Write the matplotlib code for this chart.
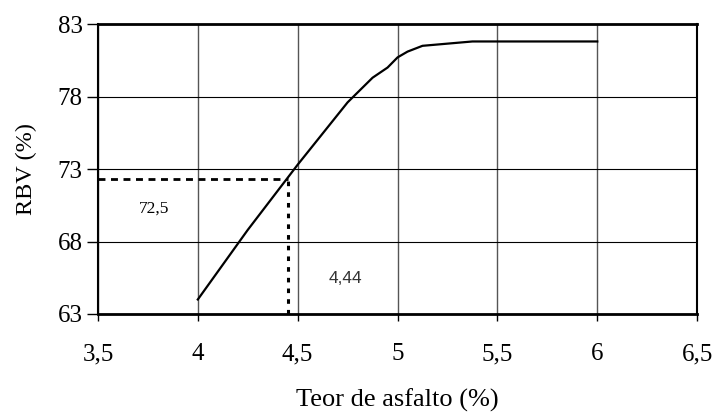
import matplotlib.pyplot as plt

# curve
teor = [4.0, 4.25, 4.5, 4.75, 4.875, 4.95, 5.0, 5.05, 5.125, 5.375, 6.0]
rbv = [64.0, 68.8, 73.3, 77.6, 79.3, 80.0, 80.7, 81.1, 81.5, 81.8, 81.8]

# optimum point marked with dotted lines
teor_opt = 4.45
rbv_opt = 72.3
label_rbv = '72,5'
label_teor = '4,44'

xticks = [3.5, 4.0, 4.5, 5.0, 5.5, 6.0, 6.5]
yticks = [63, 68, 73, 78, 83]

plt.rcParams['font.family'] = ['Liberation Serif', 'DejaVu Serif']

fig = plt.figure(figsize=(7.15, 4.15), dpi=100)
ax = fig.add_axes([0.137, 0.2434, 0.838, 0.6986])

ax.plot(teor, rbv, color='black', linewidth=1.6, zorder=3)

# dotted guide lines
ax.plot([3.5, teor_opt], [rbv_opt, rbv_opt], color='black', linewidth=2,
        linestyle=(0, (2.5, 2)), zorder=3)
ax.plot([teor_opt, teor_opt], [63, rbv_opt], color='black', linewidth=2.2,
        linestyle=(0, (1.5, 2)), zorder=3)

ax.text(3.78, 70.3, label_rbv, fontsize=12.5, ha='center', va='center')
ax.text(4.74, 65.45, label_teor, fontsize=12.5, ha='center', va='center',
        color='#333333', family=['Liberation Sans', 'DejaVu Sans'])

ax.set_xlim(3.5, 6.5)
ax.set_ylim(63, 83)
ax.set_xticks(xticks)
ax.set_xticklabels([f'{v:g}'.replace('.', ',') for v in xticks])
ax.set_yticks(yticks)
ax.tick_params(labelsize=18, direction='out', width=1)
ax.tick_params(axis='x', length=5, pad=16)
ax.tick_params(axis='y', length=8, pad=3)

ax.xaxis.grid(True, color='#555555', linewidth=1)
ax.yaxis.grid(True, color='black', linewidth=0.8)
ax.set_axisbelow(True)

for side in ['top', 'bottom']:
    ax.spines[side].set_linewidth(2)
for side in ['left', 'right']:
    ax.spines[side].set_linewidth(1.5)

ax.set_xlabel('Teor de asfalto (%)', fontsize=19, labelpad=17)
ax.set_ylabel('RBV (%)', fontsize=17.5, labelpad=15)

fig.savefig('out.png', dpi=100)
